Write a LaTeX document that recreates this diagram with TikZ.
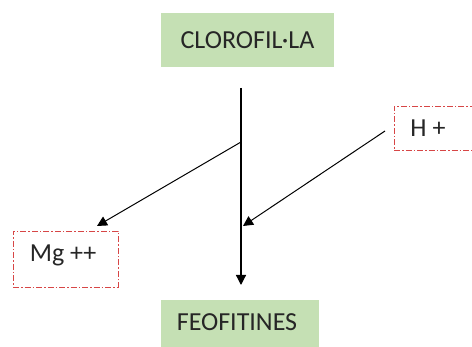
\documentclass[tikz,border=0pt]{standalone}
\usepackage{fontspec}
\setmainfont{Carlito}
\usetikzlibrary{arrows.meta}
\definecolor{boxgreen}{RGB}{197,224,180}
\definecolor{dashred}{RGB}{215,70,70}
\tikzset{
  txt/.style={font=\fontsize{26}{30}\selectfont, text=black!85},
  greenbox/.style={fill=boxgreen, draw=none, inner sep=0pt, txt},
  ionbox/.style={draw=dashred, line width=0.9pt, dash pattern=on 6pt off 2pt on 1.5pt off 2pt, fill=white, inner sep=0pt},
  conn/.style={line width=1pt, -{Triangle[width=10pt,length=10pt]}},
}
\begin{document}
\begin{tikzpicture}[x=1pt,y=-1pt]
\useasboundingbox (0,0) rectangle (472,347);
\node[greenbox, minimum width=173pt, minimum height=54pt] (clo) at (247.5,40) {CLOROFIL·LA};
\node[greenbox, minimum width=158pt, minimum height=56pt] (feo) at (240,328) {};
\node[txt] (feot) at (237,322) {FEOFITINES};
\node[ionbox, minimum width=105pt, minimum height=56pt] (mg) at (65.5,259) {};
\node[txt] (mgt) at (63,255) {Mg ++};
\node[ionbox, minimum width=82pt, minimum height=44pt] (h) at (435,128) {};
\node[txt] (ht) at (428,128) {H +};
\coordinate (top) at (241,88);
\coordinate (bot) at (241,285);
\coordinate (br) at (241,142);
\coordinate (mgtip) at (97,226);
\coordinate (hstart) at (385,131);
\coordinate (htip) at (243,226);
\draw[conn, line width=1.2pt] (top) -- (bot);
\draw[conn] (br) -- (mgtip);
\draw[conn] (hstart) -- (htip);
\end{tikzpicture}
\end{document}
